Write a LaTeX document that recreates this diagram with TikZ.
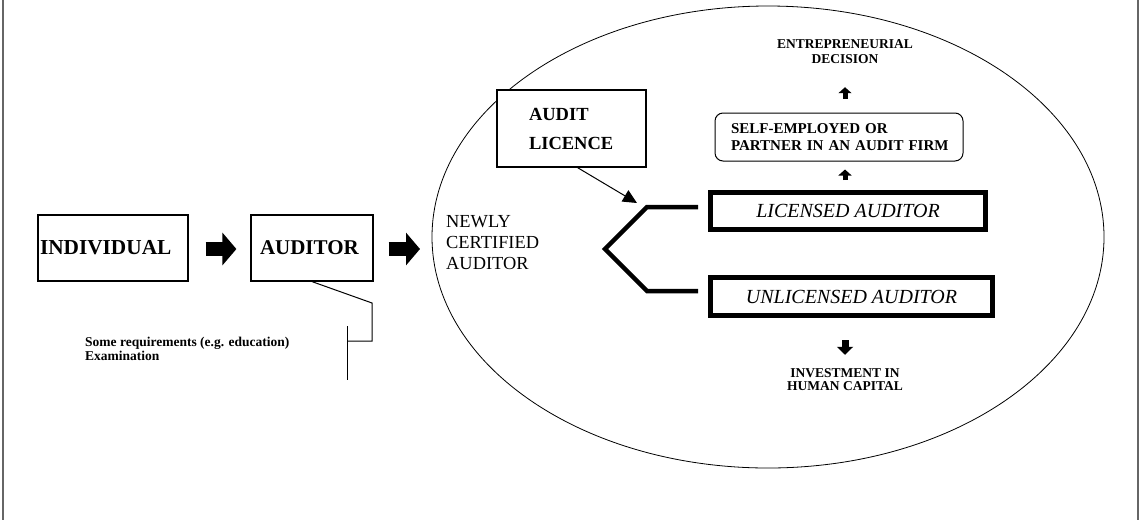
\documentclass[tikz,border=0pt]{standalone}
\usepackage{fontspec}
\setmainfont{Liberation Serif}
\usetikzlibrary{arrows.meta,calc,shapes.geometric}
\begin{document}
\begin{tikzpicture}[x=1pt,y=-1pt,
  frameline/.style={draw=black!60,line width=2pt},
  plainbox/.style={draw,fill=white,line width=1.2pt,inner sep=0pt,align=left},
  thickbox/.style={draw,line width=5pt,inner sep=0pt,font=\fontsize{20}{22}\selectfont\itshape},
  blockarrow/.style={line width=14pt,-{Triangle[length=14pt,width=32pt]}},
  smallup/.style={line width=5pt,-{Triangle[length=6pt,width=13pt]}},
  bigdown/.style={line width=7pt,-{Triangle[length=8pt,width=16pt]}},
  thinarrow/.style={line width=1pt,-{Triangle[length=14pt,width=13pt]}},
  boldtext/.style={inner sep=0pt,font=\bfseries}
]
\useasboundingbox (0,0) rectangle (1139,520);
% frame
\draw[frameline] (2.5,0) -- (2.5,520);
\draw[frameline] (1137.5,0) -- (1137.5,520);
% ellipse
\node[ellipse,draw,line width=0.8pt,minimum width=672pt,minimum height=462pt,inner sep=0pt] (oval) at (768,237) {};
% left boxes
\node[plainbox,minimum height=66pt,text width=146pt,inner xsep=2pt,font=\fontsize{21.3}{23}\selectfont\bfseries] (ind) at (113,248) {INDIVIDUAL};
\node[plainbox,minimum height=66pt,text width=104pt,inner xsep=9pt,font=\fontsize{21}{23}\selectfont\bfseries] (aud) at (312,248) {AUDITOR};
\draw[blockarrow,shorten <=17pt,shorten >=14pt] ($(ind.east)+(0,1)$) -- ($(aud.west)+(0,1)$);
\coordinate (a2end) at (420,249);
\draw[blockarrow,shorten <=15pt] ($(aud.east)+(0,1)$) -- (a2end);
% requirements bracket
\coordinate (r1) at (372,303);
\coordinate (r2) at (372,341);
\coordinate (r3) at (347,341);
\coordinate (r4) at (347,326);
\coordinate (r5) at (347,380);
\draw[line width=1pt] (aud.south) -- (r1) -- (r2) -- (r3);
\draw[line width=1pt] (r4) -- (r5);
\node[boldtext,anchor=west,align=left,font=\fontsize{13.5}{14.5}\selectfont\bfseries] (req) at (85,349) {Some requirements (e.g. education)\\Examination};
% newly certified
\node[inner sep=0pt,anchor=west,align=left,font=\fontsize{18.4}{21}\selectfont] (newly) at (446,243) {NEWLY\\CERTIFIED\\AUDITOR};
% audit licence
\node[plainbox,minimum width=149pt,minimum height=77pt,text width=149pt,inner xsep=0pt,align=left,font=\fontsize{18.5}{29}\selectfont\bfseries] (alic) at (571.5,128.5) {\hspace*{32pt}AUDIT\\\hspace*{32pt}LICENCE};
\coordinate (tip) at (637,203);
\draw[thinarrow] ($(alic.south)+(6,0)$) -- (tip);
% licensed / unlicensed
\node[thickbox,minimum width=275pt,minimum height=37pt] (lic) at (848,211) {LICENSED AUDITOR};
\node[thickbox,minimum width=282pt,minimum height=38pt] (unlic) at (851.5,296.5) {UNLICENSED AUDITOR};
\draw[line width=4.5pt] (698,207) -- (647,207) -- (605,249) -- (647,291) -- (698,291);
% self employed
\node[draw,fill=white,line width=1pt,rounded corners=8pt,minimum width=248pt,minimum height=48pt,text width=248pt,inner xsep=0pt,align=left,font=\fontsize{15}{17}\selectfont\bfseries] (self) at (839,137) {\hspace*{16pt}SELF-EMPLOYED OR\\\hspace*{16pt}PARTNER IN AN AUDIT FIRM};
\node[boldtext,align=center,font=\fontsize{13.5}{15}\selectfont\bfseries] (entre) at (845,52) {ENTREPRENEURIAL\\DECISION};
\coordinate (cx) at (845,0);
\draw[smallup,shorten <=10pt,shorten >=8pt] (cx |- lic.north) -- (cx |- self.south);
\draw[smallup,shorten <=14pt,shorten >=23pt] (cx |- self.north) -- (cx |- entre.south);
\node[boldtext,align=center,font=\fontsize{13.5}{13}\selectfont\bfseries] (inv) at (845,380) {INVESTMENT IN\\HUMAN CAPITAL};
\draw[bigdown,shorten <=22pt,shorten >=14pt] (cx |- unlic.south) -- (cx |- inv.north);
\end{tikzpicture}
\end{document}
